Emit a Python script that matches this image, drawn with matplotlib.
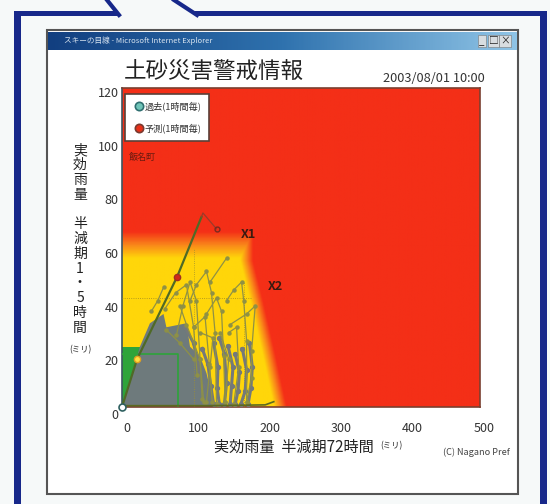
# -*- coding: utf-8 -*-
import numpy as np
import matplotlib.pyplot as plt
from matplotlib.colors import LinearSegmentedColormap
from matplotlib.lines import Line2D
from matplotlib.patches import Polygon, Rectangle

plt.rcParams['font.family'] = ['Noto Sans CJK JP', 'DejaVu Sans']

x_ticks = [0, 100, 200, 300, 400, 500]
y_ticks = [0, 20, 40, 60, 80, 100, 120]

# yellow / red border, rain 72h at given rain 1.5h
border_y = [0, 20, 40, 55, 120]
border_x = [221, 205, 188, 174, 174]

gray_x = [0, 25, 39, 58, 62, 90, 95, 109, 118, 127, 130, 0]
gray_y = [0, 22.7, 31.5, 35, 30, 31.5, 22.7, 19, 12.7, 2.6, 0, 0]

main_x = [0, 21, 77, 111, 113, 132]
main_y = [0, 18, 49, 71.5, 73, 67]

# thin olive storm tracks
tracks = [
    ([41, 50, 58], [36, 40, 45]),
    ([76, 85, 95, 104, 109, 112], [27, 38, 47, 40, 18, 3]),
    ([95, 104, 118, 125, 130, 132], [40, 46, 51, 43, 28, 1]),
    ([118, 132, 139, 142, 144], [35, 41, 36, 19, 2]),
    ([123, 146], [47, 56]),
    ([146, 156, 167, 170, 174, 174], [40, 44, 47, 40, 25, 2]),
    ([151, 174, 186, 181, 181, 174], [31, 35, 38, 21, 11, 2]),
    ([149, 160, 163, 156], [28, 30, 15, 1]),
    ([109, 127, 123, 118], [28, 26, 15, 2]),
    ([81, 90, 109, 114], [38, 31, 18, 2]),
    ([62, 81, 100], [29, 24, 18]),
    ([137, 149, 144], [28, 18, 2]),
    ([60, 75, 90, 100, 105], [37, 43, 46, 30, 12]),
    ([100, 116, 122, 126], [30, 34, 16, 2]),
]

# heavier gray low-level tracks
low_tracks = [
    ([112, 120, 124, 128], [22, 16, 8, 1]),
    ([128, 134, 133, 136], [24, 15, 7, 1]),
    ([136, 143, 146, 143], [26, 20, 9, 1]),
    ([148, 155, 153, 151], [23, 15, 8, 1]),
    ([158, 164, 162, 158], [20, 13, 6, 1]),
    ([168, 174, 172, 166], [22, 14, 6, 1]),
    ([178, 182, 180, 176], [24, 15, 7, 1]),
    ([88, 100, 106, 112], [30, 24, 16, 8]),
]


fig = plt.figure(figsize=(5.5, 5.04), dpi=100, facecolor='#f6f9f9')

# page and browser window, in pixels
bg = fig.add_axes([0, 0, 1, 1])
bg.set_xlim(0, 550)
bg.set_ylim(504, 0)
bg.axis('off')
navy = '#17288a'
bg.add_patch(Rectangle((47, 30), 471, 464, fc='white', ec='#555555', lw=1.5))
bg.add_patch(Rectangle((14, 12), 7, 492, fc=navy, ec='none'))
bg.add_patch(Rectangle((540, 12), 7, 492, fc=navy, ec='none'))
bg.add_patch(Rectangle((14, 11), 104, 5, fc=navy, ec='none'))
bg.add_patch(Rectangle((195, 11), 352, 5, fc=navy, ec='none'))
bg.plot([107, 119], [0, 15], color=navy, lw=3)
bg.plot([174, 197], [0, 15], color=navy, lw=3)
bar = LinearSegmentedColormap.from_list('bar', ['#123f80', '#2f72ae', '#8fc4e6'])
bg.imshow(np.linspace(0, 1, 200).reshape(1, -1), cmap=bar, aspect='auto',
          extent=(48, 517, 50, 32), zorder=2)
bg.set_xlim(0, 550)
bg.set_ylim(504, 0)
bg.text(64, 41, 'スキーの目線 - Microsoft Internet Explorer', color='#d8e4f0',
        fontsize=5.5, va='center', zorder=3)
for i, s in enumerate(['_', '□', '×']):
    bg.text(482 + i * 11.5, 41, s, fontsize=7, ha='center', va='center', color='#222222',
            zorder=3, bbox=dict(fc='#d8dde0', ec='#777777', lw=0.4, pad=0.8))

bg.text(124, 71, '土砂災害警戒情報', fontsize=16.2, va='center', color='#222222')
bg.text(383, 78, '2003/08/01 10:00', fontsize=9.2, va='center', color='#333333')
bg.text(214, 447, '実効雨量  半減期72時間', fontsize=10.9, va='center', color='#222222')
bg.text(380, 446, '(ミリ)', fontsize=6, va='center', color='#222222')
bg.text(443, 452, '(C) Nagano Pref', fontsize=6.6, va='center', color='#444444')
bg.text(80, 239, '実\n効\n雨\n量\n\n半\n減\n期\n1\n・\n5\n時\n間', fontsize=10, ha='center',
        va='center', linespacing=1.07, color='#222222')
bg.text(80, 350, '(ミリ)', fontsize=6, ha='center', va='center', color='#222222')

# tick labels sit slightly off the plot scale in the reference
lab = fig.add_axes([127 / 550, 1 - 414 / 504, 357 / 550, 322 / 504], facecolor='none')
lab.set_xlim(0, 500)
lab.set_ylim(0, 120)
lab.set_xticks(x_ticks)
lab.set_yticks(y_ticks)
lab.tick_params(length=0, labelsize=9, labelcolor='#333333', pad=6)
for sp in lab.spines.values():
    sp.set_visible(False)

ax = fig.add_axes([122 / 550, 1 - 407 / 504, 358 / 550, 319 / 504])
ax.set_xlim(0, 500)
ax.set_ylim(0, 120)
ax.set_xticks([])
ax.set_yticks([])
for sp in ax.spines.values():
    sp.set_color('#7a4030')
    sp.set_linewidth(1.2)
ax.spines['left'].set_color('#3d5560')

# warning field
gx, gy = np.meshgrid(np.linspace(0, 500, 500), np.linspace(0, 120, 240))
top = (gy - 56) / 10
side = (gx - np.interp(gy, border_y, border_x)) / 18 + 0.5
field = np.clip(np.maximum(top, side), 0, 1)
warn = LinearSegmentedColormap.from_list('warn', ['#ffd60a', '#f9861a', '#f42f17'])
ax.imshow(field, origin='lower', extent=(0, 500, 0, 120), aspect='auto', cmap=warn,
          vmin=0, vmax=1, zorder=0)

ax.add_patch(Rectangle((0, 0), 78, 22.5, fc='#2ea43a', ec='none', zorder=1))
ax.add_patch(Polygon(np.column_stack([gray_x, gray_y]), fc='#6e7a7c', ec='none', zorder=2))
ax.plot([0, 78, 78], [20, 20, 0], color='#2ea43a', lw=1.2, zorder=3)

ax.axhline(41, xmax=0.36, color='#a08a20', lw=0.6, ls=':', zorder=3)
ax.plot([100, 100], [0, 60], color='#a09030', lw=0.6, ls=':', zorder=3)
ax.plot([170, 170], [0, 47], color='#a09030', lw=0.6, ls=':', zorder=3)

for tx, ty in low_tracks:
    ax.plot(tx, ty, color='#74797a', lw=2.2, marker='o', ms=2.8, zorder=3)
for tx, ty in tracks:
    ax.plot(tx, ty, color='#8f9145', lw=0.9, marker='o', ms=2.2, zorder=4)
ax.plot([0, 120, 200, 212], [0.5, 0.5, 0.8, 2], color='#5c6a20', lw=1.2, zorder=4)

ax.plot(main_x[:4], main_y[:4], color='#4f6a26', lw=1.6, zorder=5)
ax.plot(main_x[3:], main_y[3:], color='#9c3a2a', lw=0.9, zorder=5)
ax.plot(main_x[0], main_y[0], 'o', ms=5, mfc='white', mec='#2f6060', mew=1.2, zorder=7, clip_on=False)
ax.plot(main_x[1], main_y[1], 'o', ms=4.5, mfc='#ffe040', mec='#e0a020', zorder=6)
ax.plot(main_x[2], main_y[2], 'o', ms=4.5, mfc='#d02a18', mec='#a03020', zorder=6)
ax.plot(main_x[5], main_y[5], 'o', ms=3.5, mfc='none', mec='#7a2a20', mew=1, zorder=6)

ax.text(177, 65, 'X1', fontsize=9, ha='center', va='center', weight='bold', color='#3a1a10')
ax.text(214, 45.5, 'X2', fontsize=9, ha='center', va='center', weight='bold', color='#3a1a10')
ax.text(29, 94, '飯名町', fontsize=6.5, ha='center', va='center', color='#6a1a10')

handles = [
    Line2D([], [], ls='none', marker='o', ms=6, mfc='#6fc4b8', mec='#2f6f70', mew=1.2, label='過去(1時間毎)'),
    Line2D([], [], ls='none', marker='o', ms=6, mfc='#e83018', mec='#7a3a30', mew=1.2, label='予測(1時間毎)'),
]
leg = ax.legend(handles=handles, loc='upper left', bbox_to_anchor=(0.008, 0.982), fontsize=6.6,
                borderaxespad=0, handletextpad=0, labelspacing=1.3, borderpad=0.85,
                handlelength=1.3, fancybox=False, framealpha=1, edgecolor='#5a4038')
leg.get_frame().set_linewidth(1.2)
leg.set_zorder(10)
for t in leg.get_texts():
    t.set_color('#333333')

fig.savefig('out.png', dpi=100)
